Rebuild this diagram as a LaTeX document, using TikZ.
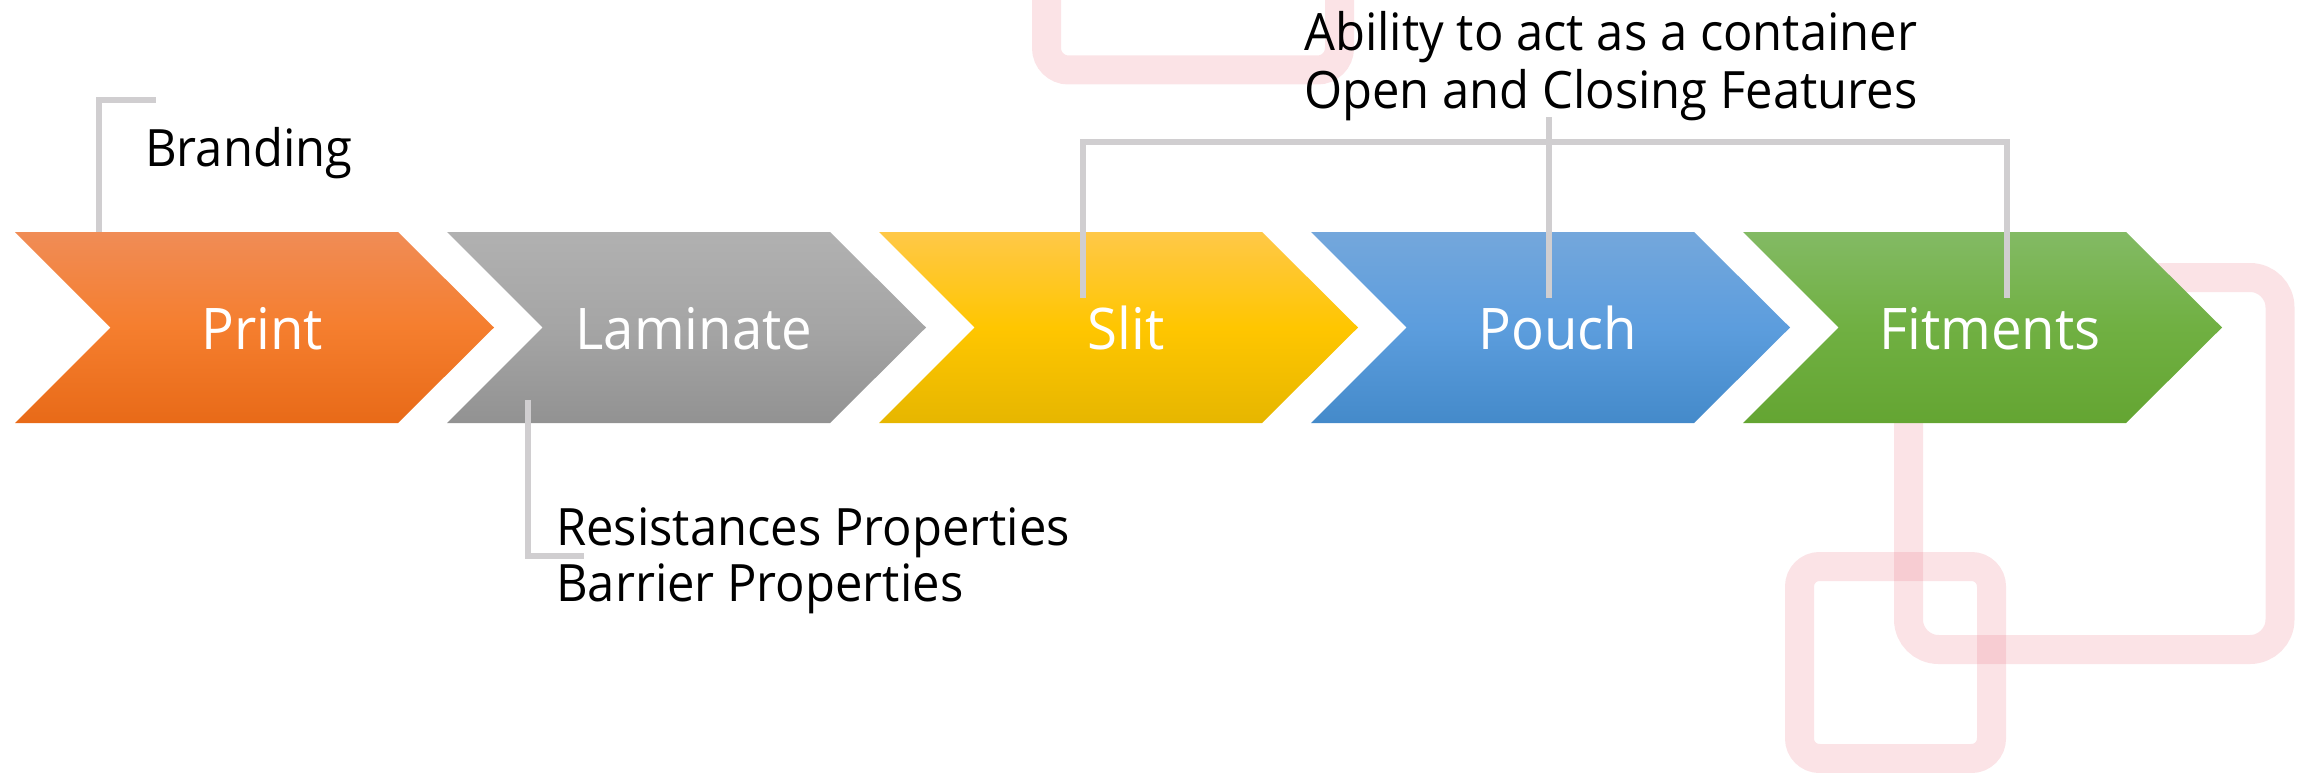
\documentclass[tikz,border=0pt]{standalone}
\usepackage{fontspec}
\setmainfont{Open Sans}[FakeStretch=0.95]
\definecolor{pinkc}{RGB}{225,70,90}
\definecolor{callgray}{RGB}{208,206,208}
\definecolor{orT}{RGB}{240,140,86}\definecolor{orM}{RGB}{245,126,46}\definecolor{orB}{RGB}{232,106,24}
\definecolor{grT}{RGB}{177,177,177}\definecolor{grM}{RGB}{165,165,165}\definecolor{grB}{RGB}{146,146,146}
\definecolor{yeT}{RGB}{255,200,72}\definecolor{yeM}{RGB}{255,198,0}\definecolor{yeB}{RGB}{230,182,0}
\definecolor{blT}{RGB}{116,167,220}\definecolor{blM}{RGB}{92,157,221}\definecolor{blB}{RGB}{68,138,202}
\definecolor{gnT}{RGB}{131,186,100}\definecolor{gnM}{RGB}{112,176,66}\definecolor{gnB}{RGB}{100,165,50}
\tikzset{
  pinkbox/.style={draw=pinkc, draw opacity=0.15, line width=29pt},
  callout/.style={draw=callgray, line width=6pt},
  lbl/.style={text=white, font=\fontsize{57.4}{60}\selectfont, anchor=base, inner sep=0pt},
  calltext/.style={text=black, font=\fontsize{51.5}{57}\selectfont, anchor=base west, inner sep=0pt},
}
\newcommand{\chevshape}[4]{% x, top, middle, bottom colours
  \shade[top color=#2, bottom color=#4, middle color=#3]
    (#1,232) -- ++(383,0) -- ++(96,95.5) -- ++(-96,95.5) -- ++(-383,0) -- ++(95.5,-95.5) -- cycle;}
\begin{document}
\begin{tikzpicture}[x=1pt,y=-1pt]
\useasboundingbox (0,0) rectangle (2307,773);
% decorative pink squares
\draw[pinkbox, rounded corners=22pt] (1046.5,-200) -- (1046.5,70) -- (1339.5,70) -- (1339.5,-200);
\draw[pinkbox, rounded corners=30pt] (1908.5,277.5) rectangle (2280,649.5);
\draw[pinkbox, rounded corners=20pt] (1799.5,566.5) rectangle (1991.5,758.5);
% chevrons
\chevshape{15}{orT}{orM}{orB}
\chevshape{447}{grT}{grM}{grB}
\chevshape{879}{yeT}{yeM}{yeB}
\chevshape{1311}{blT}{blM}{blB}
\chevshape{1743}{gnT}{gnM}{gnB}
\node[lbl] (print) at (262,349) {Print};
\node[lbl] (laminate) at (694,349) {Laminate};
\node[lbl] (slit) at (1126,349) {Slit};
\node[lbl] (pouch) at (1558,349) {Pouch};
\node[lbl] (fitments) at (1990,349) {Fitments};
% callout texts
\node[calltext] (branding) at (145,167) {Branding};
\node[calltext] (resist) at (556,545) {Resistances Properties};
\node[calltext] (barrier) at (556,601.7) {Barrier Properties};
\node[calltext] (ability) at (1304,50.7) {Ability to act as a container};
\node[calltext] (openclose) at (1304,108.3) {Open and Closing Features};
% callout connectors
\coordinate (cPrint) at (99,232);
\coordinate (cBrand) at (156,100);
\coordinate (cLam) at (528,400);
\coordinate (cRes) at (584,556);
\coordinate (cSlit) at (1083,298);
\coordinate (cPouch) at (1549,298);
\coordinate (cFit) at (2007,298);
\coordinate (cTop) at (1549,117);
\draw[callout] (cPrint) |- (cBrand);
\draw[callout] (cLam) |- (cRes);
\draw[callout] (cSlit) |- (1083,142) -| (cFit);
\draw[callout] (cPouch) -- (cTop);
\end{tikzpicture}
\end{document}
